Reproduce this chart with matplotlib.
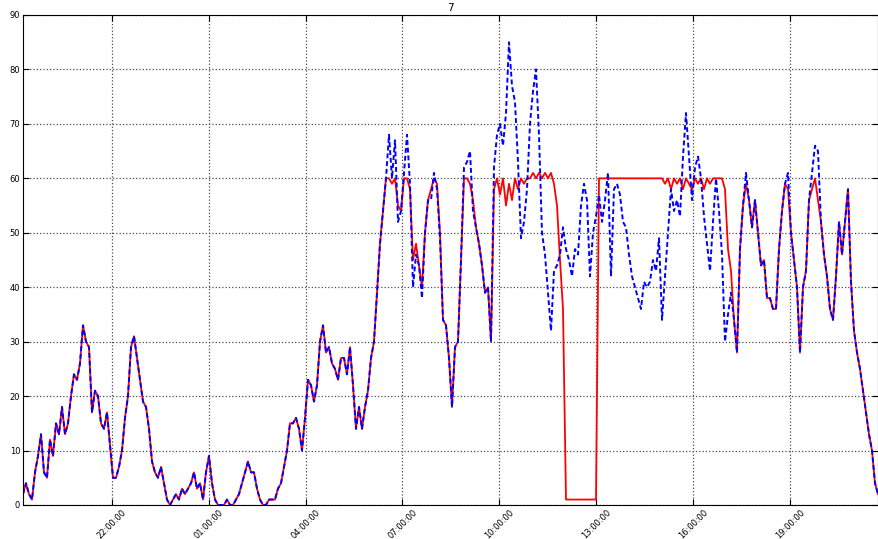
import matplotlib
matplotlib.use('Agg')
import matplotlib.pyplot as plt
import matplotlib.dates as mdates
import pandas as pd

# time span of the record
t_start = '2014-03-10 19:15:12'
t_end = '2014-03-11 21:43:30'

# measured value (blue, dashed)
blue = [2, 4, 2, 1, 6, 9, 13, 6, 5, 12,
        9, 15, 13, 18, 13, 15, 20, 24, 23, 26,
        33, 30, 29, 17, 21, 20, 15, 14, 17, 11,
        5, 5, 7, 10, 16, 20, 29, 31, 27, 23,
        19, 18, 14, 8, 6, 5, 7, 4, 1, 0,
        1, 2, 1, 3, 2, 3, 4, 6, 3, 4,
        1, 6, 9, 4, 1, 0, 0, 0, 1, 0,
        0, 1, 2, 4, 6, 8, 6, 6, 3, 1,
        0, 0, 1, 1, 1, 3, 4, 7, 10, 15,
        15, 16, 14, 10, 16, 23, 22, 19, 22, 30,
        33, 28, 29, 26, 25, 23, 27, 27, 24, 29,
        22, 14, 18, 14, 18, 21, 27, 30, 39, 48,
        54, 60, 68, 60, 67, 52, 54, 61, 68, 59,
        40, 46, 44, 38, 50, 56, 56, 61, 58, 49,
        34, 33, 27, 18, 29, 30, 45, 62, 63, 65,
        54, 51, 48, 44, 39, 40, 30, 62, 68, 70,
        66, 72, 85, 77, 74, 63, 49, 52, 58, 70,
        76, 80, 68, 50, 46, 39, 32, 43, 44, 46,
        51, 47, 45, 42, 47, 46, 55, 59, 56, 42,
        50, 53, 57, 52, 56, 61, 42, 58, 59, 57,
        52, 51, 46, 42, 40, 38, 36, 41, 40, 41,
        45, 43, 49, 34, 42, 50, 58, 54, 56, 53,
        64, 72, 64, 56, 62, 64, 60, 53, 48, 43,
        52, 60, 54, 46, 30, 35, 39, 34, 28, 47,
        55, 61, 56, 51, 56, 50, 44, 45, 38, 38,
        36, 36, 47, 54, 59, 61, 50, 45, 40, 28,
        40, 43, 56, 61, 66, 65, 52, 46, 42, 36,
        34, 42, 52, 46, 52, 58, 41, 32, 28, 25,
        21, 17, 13, 10, 4, 2]

# limited value (red, solid)
red = [2, 4, 2, 1, 6, 9, 13, 6, 5, 12,
       9, 15, 13, 18, 13, 15, 20, 24, 23, 26,
       33, 30, 29, 17, 21, 20, 15, 14, 17, 11,
       5, 5, 7, 10, 16, 20, 29, 31, 27, 23,
       19, 18, 14, 8, 6, 5, 7, 4, 1, 0,
       1, 2, 1, 3, 2, 3, 4, 6, 3, 4,
       1, 6, 9, 4, 1, 0, 0, 0, 1, 0,
       0, 1, 2, 4, 6, 8, 6, 6, 3, 1,
       0, 0, 1, 1, 1, 3, 4, 7, 10, 15,
       15, 16, 14, 10, 16, 23, 22, 19, 22, 30,
       33, 28, 29, 26, 25, 23, 27, 27, 24, 29,
       22, 14, 18, 14, 18, 21, 27, 30, 39, 48,
       54, 60, 60, 59, 60, 55, 54, 60, 60, 58,
       45, 48, 44, 40, 50, 56, 58, 60, 59, 50,
       34, 33, 27, 18, 29, 30, 45, 60, 60, 59,
       56, 51, 48, 44, 39, 40, 30, 58, 60, 57,
       60, 55, 59, 56, 60, 58, 60, 59, 60, 60,
       61, 60, 61, 60, 61, 60, 61, 59, 55, 45,
       36, 1, 1, 1, 1, 1, 1, 1, 1, 1,
       1, 1, 60, 60, 60, 60, 60, 60, 60, 60,
       60, 60, 60, 60, 60, 60, 60, 60, 60, 60,
       60, 60, 60, 60, 59, 60, 58, 60, 59, 60,
       58, 60, 59, 58, 60, 59, 60, 58, 60, 59,
       60, 60, 60, 60, 58, 47, 43, 34, 28, 47,
       55, 59, 56, 51, 56, 50, 44, 45, 38, 38,
       36, 36, 47, 54, 59, 58, 50, 45, 40, 28,
       40, 43, 56, 58, 60, 56, 52, 46, 42, 36,
       34, 42, 52, 46, 52, 58, 41, 32, 28, 25,
       21, 17, 13, 10, 4, 2]

t = pd.date_range(t_start, t_end, periods=len(blue))

fig = plt.figure(figsize=(8.79, 5.39), dpi=100)
fig.patch.set_facecolor('white')
ax = fig.add_axes([23 / 879, 34 / 539, 855 / 879, 490 / 539])

ax.plot(t, red, 'r-', lw=1.3)
ax.plot(t, blue, 'b--', lw=1.4, dashes=(2.5, 1.5))

ax.set_title('7', fontsize=7.5, pad=3)
ax.set_ylim(0, 90)
ax.set_xlim(t[0], t[-1])
ax.set_yticks(range(0, 91, 10))
ax.xaxis.set_major_locator(mdates.HourLocator(byhour=[1, 4, 7, 10, 13, 16, 19, 22]))
ax.xaxis.set_major_formatter(mdates.DateFormatter('%H:%M:%S'))

ax.grid(True, linestyle=':', color='0.3', linewidth=0.9)
ax.tick_params(direction='in', top=True, right=True, labelsize=6, length=4, pad=2)
plt.setp(ax.get_xticklabels(), rotation=45, ha='center')

fig.savefig('out.png', dpi=100)
